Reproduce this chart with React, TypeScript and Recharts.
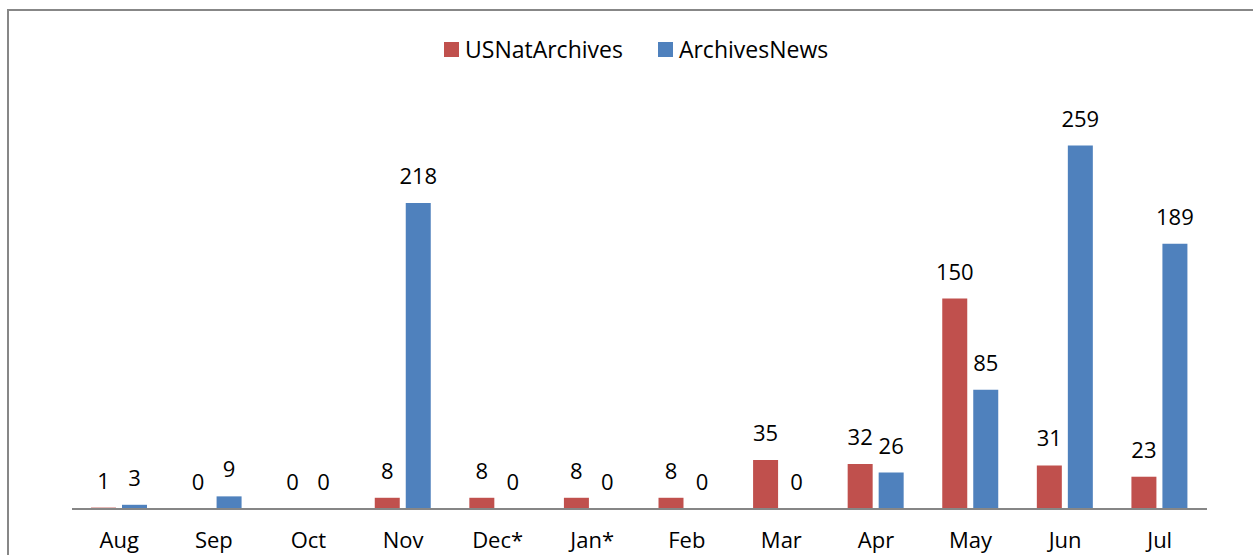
import { BarChart, Bar, XAxis, YAxis, LabelList } from 'recharts';

const months = ['Aug', 'Sep', 'Oct', 'Nov', 'Dec*', 'Jan*', 'Feb', 'Mar', 'Apr', 'May', 'Jun', 'Jul'];
const usNatArchives = [1, 0, 0, 8, 8, 8, 8, 35, 32, 150, 31, 23];
const archivesNews = [3, 9, 0, 218, 0, 0, 0, 0, 26, 85, 259, 189];

const RED = '#C0504D';
const BLUE = '#4F81BD';
const FONT = '"Open Sans", sans-serif';

const data = months.map((m, i) => ({
  month: m,
  USNatArchives: usNatArchives[i],
  ArchivesNews: archivesNews[i],
}));

const ValueLabel = (props: any) => {
  const { x, y, width, height, value } = props;
  // bars of value 0 get a hair of height, so use the bottom edge as anchor
  const top = Math.min(y, y + height);
  return (
    <text
      x={x + width / 2}
      y={top - 19}
      textAnchor="middle"
      fontFamily={FONT}
      fontSize={22}
      fill="#000"
    >
      {value}
    </text>
  );
};

const MonthTick = (props: any) => {
  const { x, payload } = props;
  return (
    <text x={x} y={548} textAnchor="middle" fontFamily={FONT} fontSize={22} fill="#000">
      {payload.value}
    </text>
  );
};

export default function App() {
  return (
    <div
      style={{
        position: 'fixed',
        left: 0,
        top: 0,
        width: 1253,
        height: 555,
        background: '#fff',
        overflow: 'hidden',
      }}
    >
      {/* chart frame, only top and left edges are in view */}
      <div
        style={{
          position: 'absolute',
          left: 7,
          top: 9,
          width: 1260,
          height: 600,
          borderTop: '2px solid #878787',
          borderLeft: '2px solid #878787',
        }}
      />
      <div
        style={{
          position: 'absolute',
          left: 444,
          top: 33,
          display: 'flex',
          alignItems: 'center',
          fontFamily: FONT,
          fontSize: 23,
          color: '#000',
          whiteSpace: 'nowrap',
        }}
      >
        <span style={{ width: 15, height: 15, background: RED, display: 'inline-block', marginRight: 6 }} />
        <span style={{ marginRight: 35 }}>USNatArchives</span>
        <span style={{ width: 15, height: 15, background: BLUE, display: 'inline-block', marginRight: 6 }} />
        <span>ArchivesNews</span>
      </div>
      <div style={{ position: 'absolute', left: 0, top: 0 }}>
        <BarChart
          width={1253}
          height={555}
          data={data}
          margin={{ top: 88, right: 46, left: 72, bottom: 0 }}
          barGap={6}
          barSize={25}
        >
          <XAxis
            dataKey="month"
            height={46}
            tickLine={false}
            axisLine={{ stroke: '#868686', strokeWidth: 2 }}
            tick={<MonthTick />}
            interval={0}
          />
          <YAxis hide domain={[0, 300]} />
          <Bar dataKey="USNatArchives" fill={RED} minPointSize={0.01} isAnimationActive={false}>
            <LabelList dataKey="USNatArchives" content={<ValueLabel />} />
          </Bar>
          <Bar dataKey="ArchivesNews" fill={BLUE} minPointSize={0.01} isAnimationActive={false}>
            <LabelList dataKey="ArchivesNews" content={<ValueLabel />} />
          </Bar>
        </BarChart>
      </div>
    </div>
  );
}
